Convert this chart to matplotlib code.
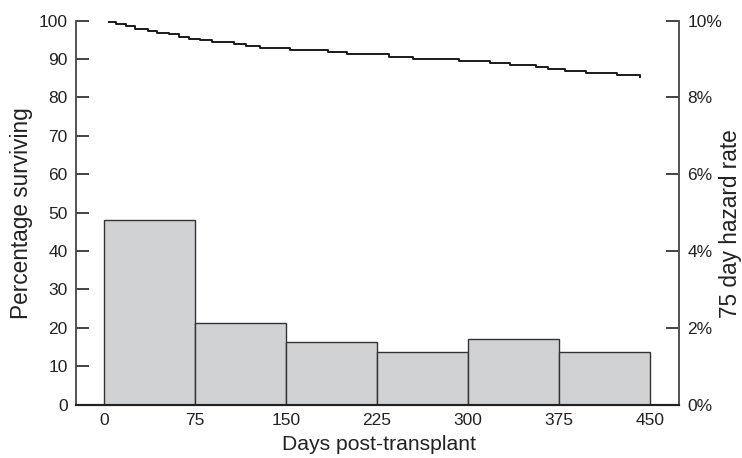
import matplotlib.pyplot as plt
from matplotlib.ticker import FuncFormatter

plt.rcParams['font.family'] = ['Liberation Sans', 'DejaVu Sans']

# survival curve (steps), days and percentage surviving
surv_days = [4, 10, 18, 26, 36, 44, 54, 62, 70, 79, 89, 107, 117, 129, 153,
             185, 200, 235, 255, 293, 318, 335, 356, 366, 380, 397, 423, 442]
surv_pct = [99.7, 99.0, 98.5, 97.9, 97.3, 96.8, 96.4, 95.7, 95.2, 94.8, 94.4,
            94.0, 93.4, 92.9, 92.3, 91.8, 91.3, 90.6, 90.05, 89.5, 89.0, 88.4,
            88.0, 87.4, 86.9, 86.3, 85.7, 85.3]

# 75 day hazard rate per interval
interval_start = [0, 75, 150, 225, 300, 375]
hazard = [0.048, 0.0211, 0.0164, 0.0138, 0.0171, 0.0138]
interval_width = 75

x_ticks = [0, 75, 150, 225, 300, 375, 450]
left_ticks = [0, 10, 20, 30, 40, 50, 60, 70, 80, 90, 100]
right_ticks = [0, 0.02, 0.04, 0.06, 0.08, 0.10]

text_color = '#222222'
spine_color = '#555555'
W, H = 742, 458

fig = plt.figure(figsize=(W / 100, H / 100), dpi=100)
ax = fig.add_axes([0.1024, 0.1168, 0.8127, 0.8384])
ax2 = ax.twinx()

ax2.bar(interval_start, hazard, width=interval_width, align='edge',
        color='#d1d2d4', edgecolor='#333333', linewidth=1.0, zorder=2)
ax.plot(surv_days, surv_pct, drawstyle='steps-post', color='#1a1a1a',
        linewidth=1.4, zorder=3)
ax.set_zorder(ax2.get_zorder() + 1)
ax.patch.set_visible(False)

ax.set_xlim(-23, 474)
ax.set_ylim(0, 100)
ax2.set_ylim(0, 0.10)

ax.set_xticks(x_ticks)
ax.set_yticks(left_ticks)
ax2.set_yticks(right_ticks)
ax2.yaxis.set_major_formatter(FuncFormatter(lambda v, p: '%d%%' % round(v * 100)))

ax.tick_params(axis='x', length=0, pad=6, labelsize=12.5, colors=text_color)
ax.tick_params(axis='y', direction='in', length=9.5, width=1.2, pad=6,
               labelsize=12.5, colors=text_color)
ax2.tick_params(axis='y', direction='in', length=9.5, width=1.2, pad=6,
                labelsize=12.5, colors=text_color)

for a in (ax, ax2):
    a.spines['top'].set_visible(False)
    a.spines['left'].set_color(spine_color)
    a.spines['right'].set_color(spine_color)
    a.spines['left'].set_linewidth(1.3)
    a.spines['right'].set_linewidth(1.3)
    a.spines['bottom'].set_color('#222222')
    a.spines['bottom'].set_linewidth(1.5)

fig.text(379 / W, 1 - 445 / H, 'Days post-transplant', fontsize=15.2,
         color=text_color, ha='center', va='center')
fig.text(22 / W, 1 - 213 / H, 'Percentage surviving', fontsize=16.3,
         color=text_color, ha='center', va='center', rotation=90)
fig.text(731 / W, 1 - 224 / H, '75 day hazard rate', fontsize=16.3,
         color=text_color, ha='center', va='center', rotation=90)

fig.savefig('out.png', dpi=100)
